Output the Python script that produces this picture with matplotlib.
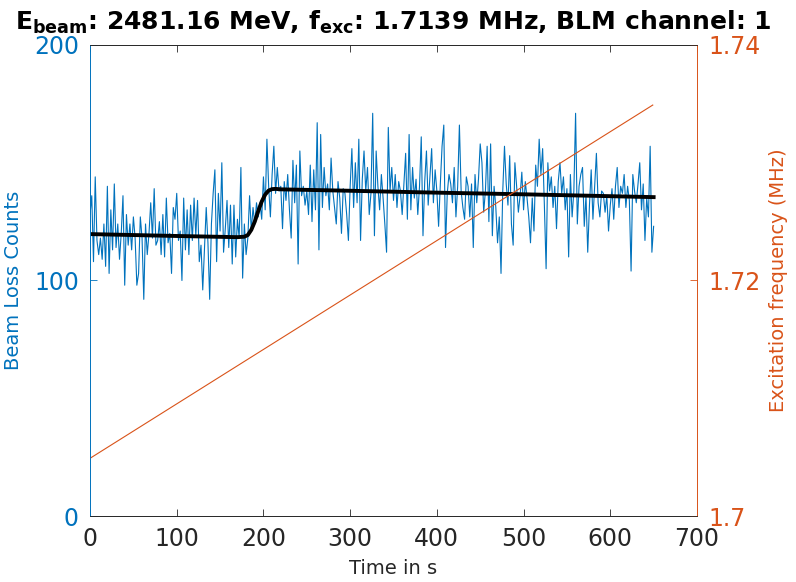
import matplotlib
matplotlib.use("Agg")
import matplotlib.pyplot as plt
import numpy as np

# =========================
# DATA
# =========================

# beam loss counts, one sample every 2 s from 0 to 650 s
time_step = 2
counts = [
    128, 136, 108, 144, 117, 111, 118, 109, 124, 106,
    140, 103, 130, 113, 141, 114, 124, 109, 120, 136,
    98, 128, 115, 124, 113, 127, 118, 98, 103, 127,
    118, 92, 124, 111, 120, 133, 118, 139, 115, 117,
    125, 111, 128, 110, 135, 116, 120, 103, 131, 126,
    137, 117, 121, 100, 135, 113, 130, 111, 132, 117,
    135, 119, 134, 108, 115, 96, 113, 131, 116, 92,
    124, 137, 147, 108, 137, 121, 150, 112, 122, 134,
    114, 132, 107, 132, 110, 126, 118, 148, 101, 124,
    111, 118, 136, 121, 131, 124, 133, 127, 133, 126,
    144, 130, 160, 140, 127, 145, 157, 137, 148, 138,
    140, 122, 142, 134, 145, 130, 118, 151, 133, 149,
    107, 155, 136, 140, 132, 138, 128, 149, 125, 147,
    130, 167, 113, 162, 131, 148, 136, 141, 130, 152,
    138, 131, 124, 142, 135, 120, 139, 137, 128, 117,
    140, 156, 131, 150, 133, 160, 117, 143, 155, 138,
    148, 128, 137, 171, 119, 155, 140, 130, 145, 135,
    124, 112, 165, 138, 148, 134, 145, 131, 142, 138,
    128, 141, 154, 126, 162, 130, 148, 135, 143, 128,
    140, 161, 119, 142, 155, 132, 144, 156, 133, 147,
    138, 123, 141, 157, 166, 114, 137, 145, 141, 133,
    148, 127, 140, 166, 138, 131, 126, 144, 140, 127,
    141, 114, 145, 133, 143, 158, 150, 129, 138, 157,
    125, 158, 119, 140, 131, 116, 127, 103, 138, 157,
    141, 132, 153, 124, 115, 150, 140, 129, 136, 146,
    130, 142, 135, 127, 116, 135, 121, 149, 140, 160,
    145, 156, 132, 105, 150, 138, 144, 131, 140, 122,
    142, 150, 137, 144, 130, 139, 110, 145, 127, 138,
    171, 124, 140, 145, 148, 123, 136, 112, 132, 147,
    126, 140, 154, 133, 127, 138, 137, 129, 136, 121,
    132, 139, 126, 140, 148, 131, 140, 137, 145, 131,
    140, 134, 104, 145, 138, 133, 141, 150, 130, 141,
    117, 135, 127, 157, 112, 123,
]

# fitted step curve
fit_t = [0, 100, 170, 178, 182, 186, 190, 194, 198, 202, 206, 210, 214, 220,
         300, 400, 500, 650]
fit_vals = [119.7, 118.9, 118.4, 118.6, 119.3, 121.5, 125.0, 129.5, 133.5,
            136.5, 138.2, 138.8, 138.9, 138.7, 138.1, 137.3, 136.6, 135.4]

# excitation frequency sweep (MHz)
freq_t = [0, 649]
freq_vals = [1.7049, 1.7349]

blue = "#0072BD"
orange = "#D95319"
dark = "#262626"

plt.rcParams["font.family"] = ["DejaVu Sans"]
plt.rcParams["mathtext.fontset"] = "dejavusans"

t = np.arange(len(counts)) * time_step

fig = plt.figure(figsize=(7.96, 5.82), dpi=100)
ax = fig.add_axes([0.1131, 0.1134, 0.7625, 0.8093])
ax2 = ax.twinx()

ax.plot(t, counts, color=blue, lw=0.8)
ax.plot(fit_t, fit_vals, color="black", lw=2.8)
ax2.plot(freq_t, freq_vals, color=orange, lw=0.8)

ax.set_xlim(0, 700)
ax.set_ylim(0, 200)
ax2.set_ylim(1.7, 1.74)
ax.set_xticks(range(0, 701, 100))
ax.set_yticks([0, 100, 200])
ax2.set_yticks([1.7, 1.72, 1.74])
ax2.set_yticklabels(["1.7", "1.72", "1.74"])

ax.tick_params(axis="x", direction="in", length=5, width=0.6, colors=dark,
               labelsize=17, top=True, pad=8)
ax.tick_params(axis="y", direction="in", length=5, width=0.6, colors=blue,
               labelsize=17, pad=8)
ax2.tick_params(axis="y", direction="in", length=5, width=0.6, colors=orange,
                labelsize=17, pad=8)

for a in (ax, ax2):
    a.spines["top"].set_color(dark)
    a.spines["bottom"].set_color(dark)
    a.spines["left"].set_color(blue)
    a.spines["right"].set_color(orange)
    for s in a.spines.values():
        s.set_linewidth(0.6)

ax.set_xlabel("Time in s", fontsize=14, color=dark, labelpad=6)
ax.set_ylabel("Beam Loss Counts", fontsize=14, color=blue, labelpad=8)
ax2.set_ylabel("Excitation frequency (MHz)", fontsize=14, color=orange,
               labelpad=6)

ax.set_title(r"E$_{\mathbf{beam}}$: 2481.16 MeV, f$_{\mathbf{exc}}$: 1.7139 MHz, BLM channel: 1",
             fontsize=18, fontweight="bold", pad=11)

fig.savefig("out.png", dpi=100)
